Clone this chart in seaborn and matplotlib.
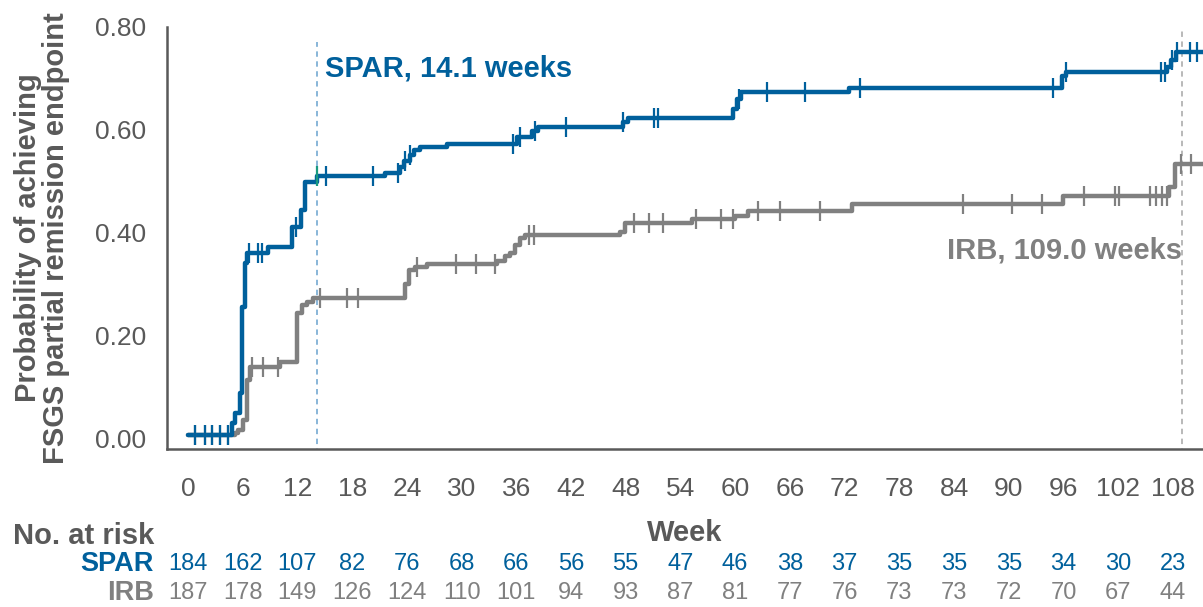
import numpy as np
import pandas as pd
import matplotlib
matplotlib.use("Agg")
import matplotlib.pyplot as plt
import matplotlib.transforms as mtransforms
import seaborn as sns

sns.set_style("white")
plt.rcParams['font.family'] = ['Liberation Sans', 'DejaVu Sans']

# colours
BLUE = "#00609c"
GREY = "#808080"
TXT = "#595959"

# step curves (week of each step, level after the step)
spar_t = [0.0, 4.8, 5.2, 5.7, 5.9, 6.25, 6.5, 8.8, 11.4, 12.4, 12.8, 14.1, 21.6, 23.2,
          23.7, 24.3, 24.8, 25.4, 28.4, 36.1, 37.7, 38.4, 47.7, 48.2, 59.8, 60.2, 60.6,
          72.5, 95.8, 96.3, 107.3, 107.8, 108.3, 111.3]
spar_y = [0.006, 0.03, 0.05, 0.088, 0.255, 0.34, 0.36, 0.372, 0.41, 0.444, 0.499, 0.51,
          0.516, 0.528, 0.54, 0.551, 0.561, 0.567, 0.572, 0.586, 0.598, 0.606, 0.615,
          0.622, 0.64, 0.66, 0.673, 0.681, 0.705, 0.713, 0.722, 0.735, 0.752, 0.752]

irb_t = [0.0, 5.2, 5.5, 6.0, 6.5, 6.8, 10.1, 12.0, 12.5, 13.0, 13.7, 23.8, 24.2, 24.9,
         26.2, 33.9, 34.8, 35.3, 35.9, 36.4, 37.0, 47.4, 47.9, 55.3, 60.0, 61.4, 72.8,
         96.0, 107.6, 108.2, 111.3]
irb_y = [0.006, 0.010, 0.016, 0.035, 0.113, 0.138, 0.148, 0.243, 0.259, 0.265, 0.272,
         0.30, 0.327, 0.333, 0.339, 0.345, 0.355, 0.36, 0.375, 0.39, 0.396, 0.401, 0.418,
         0.426, 0.433, 0.442, 0.455, 0.471, 0.488, 0.534, 0.534]

# censored observations (weeks)
spar_cens = [0.8, 1.9, 2.6, 3.5, 4.4, 6.7, 7.7, 8.1, 11.8, 15.1, 20.3, 23.0, 23.8,
             24.3, 35.6, 36.4, 38.0, 41.5, 47.7, 51.1, 51.5, 60.4, 63.5, 67.7, 73.7,
             94.8, 96.3, 106.7, 107.1, 107.9, 108.4, 109.9, 110.6]
irb_cens = [0.8, 1.9, 2.6, 3.5, 4.4, 7.0, 8.2, 9.9, 14.5, 17.4, 18.6, 25.1, 29.4, 31.6,
            33.7, 37.4, 37.9, 48.9, 50.6, 52.1, 55.7, 58.5, 59.8, 62.5, 64.9, 69.3,
            85.0, 90.4, 93.7, 98.3, 101.7, 102.1, 105.5, 106.2, 106.8, 107.4, 108.9, 110.0]

# medians
spar_med = 14.1
irb_med = 109.0

# number at risk
weeks = list(range(0, 109, 6))
spar_risk = [184, 162, 107, 82, 76, 68, 66, 56, 55, 47, 46, 38, 37, 35, 35, 35, 34, 30, 23]
irb_risk = [187, 178, 149, 126, 124, 110, 101, 94, 93, 87, 81, 77, 76, 73, 73, 72, 70, 67, 44]


def level_at(ts, ys, t):
    i = np.searchsorted(ts, t, side='right') - 1
    return ys[i]


curve = pd.concat([
    pd.DataFrame({'week': spar_t, 'prob': spar_y, 'arm': 'SPAR'}),
    pd.DataFrame({'week': irb_t, 'prob': irb_y, 'arm': 'IRB'}),
])
cens = pd.concat([
    pd.DataFrame({'week': spar_cens, 'prob': [level_at(spar_t, spar_y, t) for t in spar_cens], 'arm': 'SPAR'}),
    pd.DataFrame({'week': irb_cens, 'prob': [level_at(irb_t, irb_y, t) for t in irb_cens], 'arm': 'IRB'}),
])
pal = {'SPAR': BLUE, 'IRB': GREY}

fig = plt.figure(figsize=(12.03, 6.07), dpi=100)
ax = fig.add_axes([167 / 1203, (607 - 449) / 607, 1036 / 1203, 422 / 607])

# median lines
ax.plot([spar_med, spar_med], [-0.03, 0.77], ls=(0, (3, 2.5)), color="#7fb0d5", lw=1.3, zorder=1)
ax.plot([irb_med, irb_med], [-0.03, 0.795], ls=(0, (3, 2.5)), color="#b3b3b3", lw=1.3, zorder=1)

sns.lineplot(data=curve, x='week', y='prob', hue='arm', hue_order=['IRB', 'SPAR'],
             palette=pal, drawstyle='steps-post', estimator=None, linewidth=3.2,
             legend=False, ax=ax, zorder=3)
for arm in ['IRB', 'SPAR']:
    sub = cens[cens['arm'] == arm]
    sns.scatterplot(data=sub, x='week', y='prob', marker='|', s=200, linewidth=1.6,
                    color=pal[arm], legend=False, ax=ax, zorder=4)
# small teal censor mark at the SPAR median
ax.scatter([spar_med], [level_at(spar_t, spar_y, spar_med)], marker='|', s=200,
           linewidths=1.6, color="#1a9a80", zorder=5)

ax.text(15.0, 0.719, "SPAR, 14.1 weeks", color=BLUE, fontsize=21, fontweight='bold',
        ha='left', va='center')
ax.text(irb_med, 0.366, "IRB, 109.0 weeks", color=GREY, fontsize=21, fontweight='bold',
        ha='right', va='center')

ax.set_xlim(-2.3, 111.3)
ax.set_ylim(-0.021, 0.80)
ax.set_xticks(weeks)
ax.set_yticks([0, 0.2, 0.4, 0.6, 0.8])
ax.set_yticklabels([f"{v:.2f}" for v in [0, 0.2, 0.4, 0.6, 0.8]])
ax.tick_params(axis='x', length=10, width=1.5, color='black', pad=10, labelsize=19, labelcolor=TXT)
ax.tick_params(axis='y', length=11, width=1.5, color='black', pad=4, labelsize=19, labelcolor=TXT)

sns.despine(ax=ax)
for s in ['left', 'bottom']:
    ax.spines[s].set_color(TXT)
    ax.spines[s].set_linewidth(1.8)

ax.set_xlabel("Week", fontsize=21, fontweight='bold', color=TXT)
ax.xaxis.set_label_coords(0.5, -0.165)
ax.set_ylabel("Probability of achieving\nFSGS partial remission endpoint", fontsize=21,
              fontweight='bold', color=TXT, linespacing=1.0)
ax.yaxis.set_label_coords(-0.094, 0.5)

# number-at-risk table
fig.text(13 / 1203, (607 - 536) / 607, "No. at risk", fontsize=21, fontweight='bold',
         color=TXT, ha='left', va='center')
fig.text(154 / 1203, (607 - 564) / 607, "SPAR", fontsize=19.5, fontweight='bold',
         color=BLUE, ha='right', va='center')
fig.text(154 / 1203, (607 - 593) / 607, "IRB", fontsize=19.5, fontweight='bold',
         color=GREY, ha='right', va='center')
trans = mtransforms.blended_transform_factory(ax.transData, fig.transFigure)
for w, a, b in zip(weeks, spar_risk, irb_risk):
    ax.text(w, (607 - 564) / 607, str(a), transform=trans, fontsize=17, color=BLUE,
            ha='center', va='center', clip_on=False)
    ax.text(w, (607 - 593) / 607, str(b), transform=trans, fontsize=17, color=GREY,
            ha='center', va='center', clip_on=False)

fig.savefig("out.png", dpi=100)
